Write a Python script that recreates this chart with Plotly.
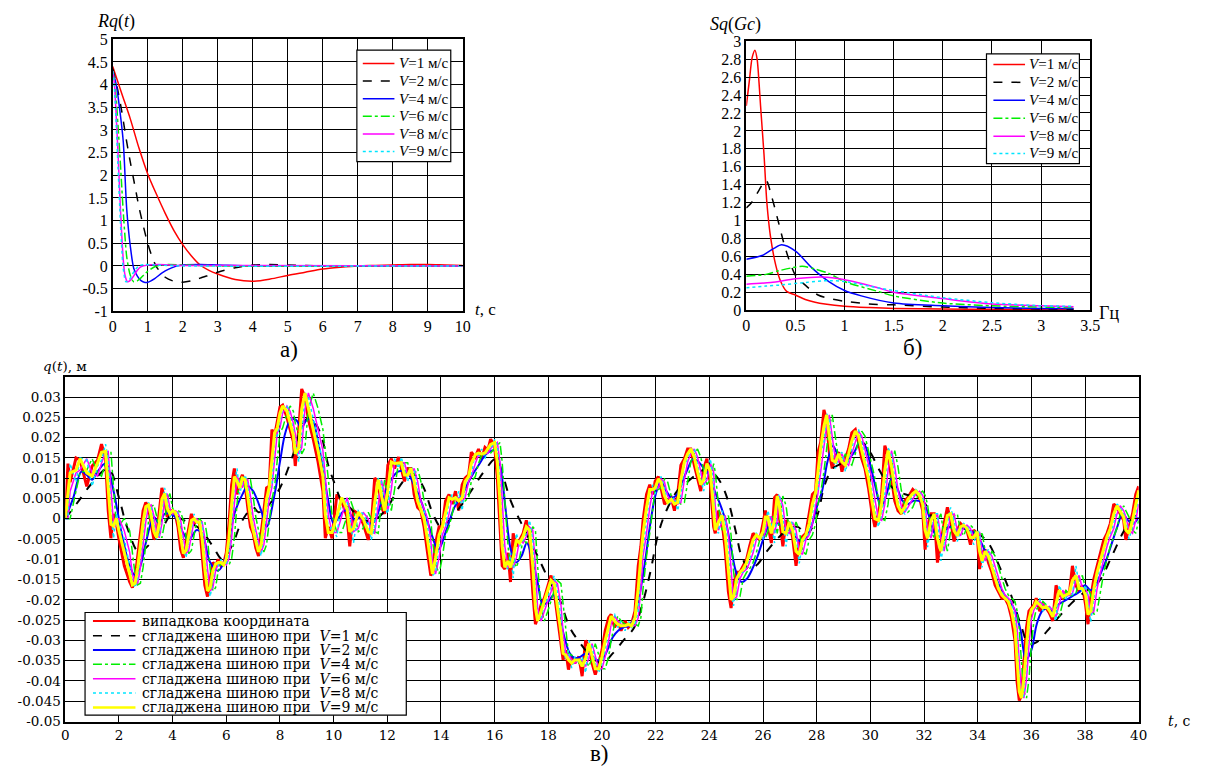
import plotly.graph_objects as go

W, H = 1209, 778

# ---------------- a) Rq(t) ----------------
RQ_T_V1 = [0, 0.25, 0.5, 0.75, 1, 1.25, 1.5, 1.75, 2, 2.25, 2.5, 2.75, 3, 3.5, 4, 4.5, 5, 5.5, 6, 6.5, 7, 7.5, 8, 8.5, 9, 9.5, 10]
RQ_V1 = [4.4, 3.82, 3.25, 2.6, 2.03, 1.58, 1.16, 0.78, 0.47, 0.22, 0.02, -0.1, -0.18, -0.3, -0.34, -0.29, -0.21, -0.14, -0.07, -0.03, 0.0, 0.01, 0.02, 0.03, 0.03, 0.02, 0.01]
RQ_T_V2 = [0, 0.125, 0.25, 0.375, 0.5, 0.625, 0.75, 0.875, 1, 1.125, 1.25, 1.5, 1.75, 2, 2.25, 2.5, 3, 3.5, 4, 4.5, 5, 6, 7, 8, 9, 10]
RQ_V2 = [4.35, 3.95, 3.45, 2.85, 2.3, 1.8, 1.3, 0.88, 0.5, 0.2, -0.02, -0.25, -0.34, -0.36, -0.33, -0.27, -0.14, -0.04, 0.02, 0.03, 0.02, 0.0, 0.0, 0.0, 0.0, 0.0]
RQ_T_V4 = [0, 0.1, 0.2, 0.3, 0.4, 0.5, 0.6, 0.7, 0.8, 0.9, 1.0, 1.2, 1.4, 1.6, 1.8, 2.0, 2.5, 3, 4, 5, 10]
RQ_V4 = [4.3, 4.0, 3.45, 2.75, 1.25, 0.45, -0.05, -0.22, -0.32, -0.36, -0.36, -0.28, -0.16, -0.07, -0.01, 0.02, 0.03, 0.02, 0.0, 0.0, 0.0]
RQ_T_V6 = [0, 0.05, 0.1, 0.15, 0.2, 0.25, 0.3, 0.35, 0.4, 0.5, 0.6, 0.7, 0.8, 0.9, 1.0, 1.2, 1.4, 1.6, 2.0, 3.0, 10]
RQ_V6 = [4.3, 4.1, 3.7, 3.1, 2.5, 1.85, 1.2, 0.65, 0.2, -0.2, -0.35, -0.33, -0.27, -0.19, -0.12, -0.02, 0.02, 0.03, 0.02, 0.0, 0.0]
RQ_T_V8 = [0, 0.05, 0.1, 0.15, 0.2, 0.25, 0.3, 0.35, 0.42, 0.5, 0.6, 0.7, 0.8, 1.0, 1.3, 2.0, 10]
RQ_V8 = [4.3, 4.0, 3.3, 2.5, 1.6, 0.8, 0.15, -0.2, -0.35, -0.32, -0.22, -0.1, -0.02, 0.02, 0.03, 0.01, 0.0]
RQ_T_V9 = [0, 0.05, 0.1, 0.15, 0.2, 0.25, 0.3, 0.38, 0.45, 0.55, 0.65, 0.75, 0.9, 1.2, 2.0, 10]
RQ_V9 = [4.3, 3.9, 3.1, 2.2, 1.3, 0.5, -0.05, -0.35, -0.33, -0.2, -0.08, 0.0, 0.03, 0.02, 0.0, 0.0]

# ---------------- b) Sq(Gc) ----------------
SQ_F_V1 = [0, 0.03, 0.06, 0.088, 0.11, 0.13, 0.145, 0.18, 0.21, 0.245, 0.3, 0.35, 0.41, 0.5, 0.6, 0.7, 0.8, 1.0, 1.25, 1.5, 2.0, 2.5, 3.0, 3.33]
SQ_V1 = [2.28, 2.55, 2.82, 2.9, 2.8, 2.53, 2.28, 1.74, 1.19, 0.83, 0.5, 0.32, 0.21, 0.17, 0.12, 0.09, 0.07, 0.045, 0.03, 0.02, 0.015, 0.01, 0.01, 0.01]
SQ_F_V2 = [0, 0.06, 0.13, 0.2, 0.26, 0.33, 0.4, 0.5, 0.6, 0.73, 0.85, 1.0, 1.25, 1.5, 2.0, 2.5, 3.0, 3.33]
SQ_V2 = [1.14, 1.21, 1.34, 1.45, 1.26, 0.97, 0.68, 0.39, 0.28, 0.17, 0.13, 0.1, 0.07, 0.06, 0.035, 0.02, 0.015, 0.01]
SQ_F_V4 = [0, 0.16, 0.28, 0.36, 0.5, 0.67, 0.84, 1.0, 1.17, 1.5, 2.0, 2.5, 3.0, 3.33]
SQ_V4 = [0.57, 0.61, 0.69, 0.73, 0.66, 0.47, 0.32, 0.22, 0.16, 0.08, 0.05, 0.03, 0.02, 0.02]
SQ_F_V6 = [0, 0.2, 0.33, 0.45, 0.57, 0.7, 0.84, 1.0, 1.34, 1.5, 2.0, 2.5, 3.0, 3.33]
SQ_V6 = [0.38, 0.4, 0.44, 0.47, 0.49, 0.46, 0.41, 0.32, 0.21, 0.16, 0.08, 0.05, 0.035, 0.03]
SQ_F_V8 = [0, 0.25, 0.5, 0.77, 1.0, 1.34, 1.5, 2.0, 2.5, 3.0, 3.33]
SQ_V8 = [0.29, 0.31, 0.35, 0.37, 0.34, 0.25, 0.2, 0.13, 0.07, 0.05, 0.04]
SQ_F_V9 = [0, 0.2, 0.33, 0.6, 0.84, 1.0, 1.34, 1.5, 2.0, 2.5, 3.0, 3.33]
SQ_V9 = [0.25, 0.27, 0.28, 0.31, 0.33, 0.32, 0.25, 0.22, 0.14, 0.085, 0.05, 0.045]

# ---------------- c) q(t) ----------------
RED = [
(0.0,0.0),(0.1,0.0136),(0.18,0.009),(0.4,0.015),(0.55,0.0145),(0.8,0.008),(1.0,0.013),(1.2,0.0144),(1.35,0.0184),(1.5,0.0148),
(1.6,0.002),(1.7,-0.0048),(1.8,0.0012),(1.9,-0.001),(2.0,-0.005),(2.2,-0.0116),(2.4,-0.0156),(2.5,-0.017),(2.6,-0.0148),(2.7,-0.0092),
(2.8,-0.0036),(2.9,0.002),(3.0,0.004),(3.1,0.0028),(3.2,-0.0012),(3.3,-0.005),(3.4,-0.0044),(3.5,0.002),(3.6,0.0076),(3.7,0.0048),
(3.8,0.0004),(3.9,0.002),(4.0,0.002),(4.1,0.0012),(4.2,-0.002),(4.3,-0.0076),(4.4,-0.0096),(4.5,-0.006),(4.6,-0.002),(4.7,0.0012),
(4.8,-0.0012),(4.9,-0.0004),(5.0,-0.0012),(5.1,-0.0084),(5.2,-0.0164),(5.3,-0.0192),(5.4,-0.0148),(5.5,-0.0108),(5.6,-0.0116),(5.7,-0.01),
(5.8,-0.0116),(5.9,-0.0112),(6.0,-0.0084),(6.1,-0.0012),(6.2,0.0084),(6.3,0.0124),(6.4,0.006),(6.5,0.0092),(6.6,0.0108),(6.7,0.0084),
(6.8,0.0028),(6.9,-0.002),(7.0,-0.0036),(7.1,-0.0072),(7.2,-0.0092),(7.3,-0.0036),(7.4,0.002),(7.5,0.0076),(7.6,0.008),(7.7,0.022),
(7.8,0.0204),(7.9,0.0244),(8.0,0.0275),(8.1,0.028),(8.26,0.025),(8.38,0.022),(8.5,0.019),(8.57,0.013),(8.7,0.022),(8.81,0.032),
(8.93,0.030),(9.06,0.0244),(9.24,0.0196),(9.42,0.014),(9.6,0.0068),(9.69,-0.0048),(9.8,-0.002),(9.94,-0.0048),(10.12,0.006),(10.3,0.0044),
(10.5,0.0004),(10.6,-0.0068),(10.74,0.002),(10.92,0.0012),(11.1,-0.0012),(11.29,-0.0052),(11.4,-0.002),(11.53,0.01),(11.66,0.0092),(11.78,0.0028),
(11.9,0.0012),(12.02,0.0132),(12.15,0.0148),(12.27,0.0124),(12.42,0.0152),(12.52,0.0124),(12.64,0.0092),(12.76,0.0124),(12.88,0.0124),(13.0,0.006),
(13.13,0.0028),(13.25,0.002),(13.37,-0.002),(13.5,-0.0084),(13.62,-0.014),(13.68,-0.0132),(13.8,-0.006),(13.93,-0.002),(14.05,-0.002),(14.17,0.0044),
(14.3,0.006),(14.42,0.0036),(14.54,0.0068),(14.66,0.002),(14.79,0.0084),(14.9,0.01),(15.03,0.0108),(15.13,0.0164),(15.28,0.0152),(15.4,0.0172),
(15.52,0.0148),(15.64,0.0176),(15.75,0.017),(15.85,0.0196),(16.0,0.018),(16.1,0.01),(16.2,-0.002),(16.28,-0.0116),(16.38,-0.0124),(16.5,-0.0084),
(16.59,-0.0156),(16.69,-0.0036),(16.81,-0.0068),(16.93,-0.0052),(17.06,-0.0036),(17.18,-0.0004),(17.3,-0.0052),(17.42,-0.018),(17.52,-0.026),(17.6,-0.0244),
(17.73,-0.0212),(17.85,-0.0196),(17.98,-0.0164),(18.1,-0.014),(18.22,-0.018),(18.34,-0.0244),(18.47,-0.0316),(18.55,-0.0348),(18.65,-0.0324),(18.75,-0.0372),
(18.87,-0.034),(18.99,-0.0356),(19.14,-0.034),(19.26,-0.0388),(19.39,-0.03),(19.51,-0.0316),(19.63,-0.0356),(19.75,-0.0384),(19.88,-0.0356),(20.0,-0.0324),
(20.12,-0.0276),(20.25,-0.0244),(20.34,-0.0236),(20.47,-0.0268),(20.59,-0.0252),(20.71,-0.0276),(20.86,-0.0252),(20.98,-0.0268),(21.1,-0.026),(21.23,-0.0228),
(21.35,-0.0116),(21.45,-0.0068),(21.53,-0.0004),(21.66,0.006),(21.78,0.0084),(21.9,0.006),(21.98,0.0092),(22.1,0.0104),(22.2,0.0076),(22.33,0.0036),
(22.45,0.0044),(22.58,0.0052),(22.7,0.002),(22.82,0.006),(22.94,0.0132),(23.07,0.0148),(23.19,0.0172),(23.31,0.0172),(23.44,0.0132),(23.56,0.01),
(23.68,0.0068),(23.79,0.0124),(23.91,0.0148),(24.04,0.0084),(24.16,-0.002),(24.22,-0.0036),(24.34,0.002),(24.47,-0.0004),(24.59,-0.0076),(24.71,-0.018),
(24.81,-0.022),(24.9,-0.0164),(25.02,-0.0132),(25.14,-0.0132),(25.26,-0.0116),(25.39,-0.01),(25.5,-0.0068),(25.63,-0.0036),(25.75,-0.0044),(25.88,-0.0052),
(26.0,-0.0012),(26.09,0.002),(26.18,-0.0012),(26.31,-0.006),(26.43,0.0052),(26.53,0.006),(26.61,0.0004),(26.74,-0.0068),(26.86,-0.0004),(26.98,-0.0012),
(27.1,-0.0044),(27.23,-0.0116),(27.35,-0.006),(27.47,-0.0044),(27.6,-0.0036),(27.72,0.0012),(27.84,0.006),(27.96,0.0068),(28.05,0.0164),(28.15,0.0188),
(28.27,0.0268),(28.37,0.0244),(28.47,0.0164),(28.58,0.0124),(28.7,0.0156),(28.82,0.0164),(28.94,0.0116),(29.07,0.0148),(29.19,0.0172),(29.31,0.0212),
(29.44,0.022),(29.56,0.0188),(29.68,0.0148),(29.8,0.0124),(29.93,0.0076),(30.05,0.002),(30.17,-0.002),(30.3,0.0012),(30.42,0.006),(30.54,0.018),
(30.66,0.0156),(30.79,0.01),(30.91,0.0044),(31.03,0.002),(31.15,0.0012),(31.28,0.0044),(31.4,0.0052),(31.58,0.0072),(31.7,0.0064),(31.83,0.0052),
(31.95,0.002),(32.04,-0.0076),(32.13,-0.002),(32.26,0.0012),(32.38,0.0012),(32.5,-0.0108),(32.63,-0.0052),(32.75,-0.0012),(32.87,0.0028),(32.99,-0.0004),
(33.12,-0.0056),(33.24,-0.0028),(33.36,-0.0012),(33.48,-0.002),(33.6,-0.0028),(33.73,-0.0064),(33.85,-0.0028),(33.98,-0.0036),(34.07,-0.0124),(34.16,-0.0084),
(34.28,-0.0076),(34.4,-0.0108),(34.53,-0.0132),(34.65,-0.0164),(34.77,-0.018),(34.9,-0.0196),(35.02,-0.0196),(35.14,-0.0212),(35.26,-0.0244),(35.39,-0.03),
(35.47,-0.0404),(35.55,-0.0448),(35.63,-0.0436),(35.72,-0.0356),(35.82,-0.0268),(35.91,-0.0228),(36.0,-0.022),(36.1,-0.0212),(36.18,-0.0196),(36.31,-0.0228),
(36.43,-0.0212),(36.55,-0.022),(36.67,-0.0232),(36.8,-0.0252),(36.92,-0.0164),(37.04,-0.0188),(37.17,-0.0196),(37.29,-0.018),(37.41,-0.0188),(37.53,-0.0116),
(37.66,-0.0164),(37.78,-0.018),(37.9,-0.0164),(38.02,-0.0212),(38.11,-0.026),(38.21,-0.0196),(38.33,-0.0148),(38.45,-0.0116),(38.58,-0.0084),(38.7,-0.0052),
(38.82,-0.0036),(38.94,-0.0012),(39.07,0.0036),(39.19,0.0028),(39.31,0.0012),(39.44,-0.0004),(39.52,-0.0052),(39.64,-0.002),(39.77,0.0012),(39.89,0.006),
(40.0,0.008)]

# smoothed by tyre, V = 9 m/s (read at the same instants as the raw signal)
Q_V9 = [
0.0,0.0068,0.0113,0.012,0.0148,0.0113,0.0105,0.0137,0.0164,0.0166,
0.0084,-0.0014,-0.0018,0.0001,-0.003,-0.0083,-0.0136,-0.0163,-0.0159,-0.012,
-0.0064,-0.0008,0.003,0.0034,0.0008,-0.0031,-0.0047,-0.0012,0.0048,0.0062,
0.0026,0.0012,0.002,0.0016,-0.0004,-0.0048,-0.0086,-0.0078,-0.004,-0.0004,
0.0,-0.0008,-0.0008,-0.0048,-0.0124,-0.0178,-0.017,-0.0128,-0.0112,-0.0108,
-0.0108,-0.0114,-0.0098,-0.0048,0.0036,0.0104,0.0092,0.0076,0.01,0.0096,
0.0056,0.0004,-0.0028,-0.0054,-0.0082,-0.0064,-0.0008,0.0048,0.0078,0.015,
0.0212,0.0224,0.026,0.0278,0.0265,0.0235,0.0205,0.016,0.0175,0.027,
0.031,0.0272,0.022,0.0168,0.0104,0.001,-0.0034,-0.0034,0.0006,0.0052,
0.0024,-0.0032,-0.0024,0.0016,0.0,-0.0032,-0.0036,0.004,0.0096,0.006,
0.002,0.0072,0.014,0.0136,0.0138,0.0138,0.0108,0.0108,0.0124,0.0092,
0.0044,0.0024,0.0,-0.0052,-0.0112,-0.0136,-0.0096,-0.004,-0.002,0.0012,
0.0052,0.0048,0.0052,0.0044,0.0052,0.0092,0.0104,0.0136,0.0158,0.0162,
0.016,0.0162,0.0173,0.0183,0.0188,0.014,0.004,-0.0068,-0.012,-0.0104,
-0.012,-0.0096,-0.0052,-0.006,-0.0044,-0.002,-0.0028,-0.0116,-0.022,-0.0252,
-0.0228,-0.0204,-0.018,-0.0152,-0.016,-0.0212,-0.028,-0.0332,-0.0336,-0.0348,
-0.0356,-0.0348,-0.0348,-0.0364,-0.0344,-0.0308,-0.0336,-0.037,-0.037,-0.034,
-0.03,-0.026,-0.024,-0.0252,-0.026,-0.0264,-0.0264,-0.026,-0.0264,-0.0244,
-0.0172,-0.0092,-0.0036,0.0028,0.0072,0.0072,0.0076,0.0098,0.009,0.0056,
0.004,0.0048,0.0036,0.004,0.0096,0.014,0.016,0.0172,0.0152,0.0116,
0.0084,0.0096,0.0136,0.0116,0.0032,-0.0028,-0.0008,0.0008,-0.004,-0.0128,
-0.02,-0.0192,-0.0148,-0.0132,-0.0124,-0.0108,-0.0084,-0.0052,-0.004,-0.0048,
-0.0032,0.0004,0.0004,-0.0036,-0.0004,0.0056,0.0032,-0.0032,-0.0036,-0.0008,
-0.0028,-0.008,-0.0088,-0.0052,-0.004,-0.0012,0.0036,0.0064,0.0116,0.0176,
0.0228,0.0256,0.0204,0.0144,0.014,0.016,0.014,0.0132,0.016,0.0192,
0.0216,0.0204,0.0168,0.0136,0.01,0.0048,0.0,-0.0004,0.0036,0.012,
0.0168,0.0128,0.0072,0.0032,0.0016,0.0028,0.0048,0.0062,0.0068,0.0058,
0.0036,-0.0028,-0.0048,-0.0004,0.0012,-0.0048,-0.008,-0.0032,0.0008,0.0012,
-0.003,-0.0042,-0.002,-0.0016,-0.0024,-0.0046,-0.0046,-0.0032,-0.008,-0.0104,
-0.008,-0.0092,-0.012,-0.0148,-0.0172,-0.0188,-0.0196,-0.0204,-0.0228,-0.0272,
-0.0352,-0.0426,-0.0442,-0.0396,-0.0312,-0.0248,-0.0224,-0.0216,-0.0204,-0.0212,
-0.022,-0.0216,-0.0226,-0.0242,-0.0208,-0.0176,-0.0192,-0.0188,-0.0184,-0.0152,
-0.014,-0.0172,-0.0172,-0.0188,-0.0236,-0.0228,-0.0172,-0.0132,-0.01,-0.0068,
-0.0044,-0.0024,0.0012,0.0032,0.002,0.0004,-0.0028,-0.0036,-0.0004,0.0036,
0.007]

# V = 8 m/s
Q_V8 = [
0.0,0.0,0.0136,0.009,0.015,0.0145,0.008,0.013,0.0144,0.0184,
0.0148,0.002,-0.0048,0.0012,-0.001,-0.005,-0.0116,-0.0156,-0.017,-0.0148,
-0.0092,-0.0036,0.002,0.004,0.0028,-0.0012,-0.005,-0.0044,0.002,0.0076,
0.0048,0.0004,0.002,0.002,0.0012,-0.002,-0.0076,-0.0096,-0.006,-0.002,
0.0012,-0.0012,-0.0004,-0.0012,-0.0084,-0.0164,-0.0192,-0.0148,-0.0108,-0.0116,
-0.01,-0.0116,-0.0112,-0.0084,-0.0012,0.0084,0.0124,0.006,0.0092,0.0108,
0.0084,0.0028,-0.002,-0.0036,-0.0072,-0.0092,-0.0036,0.002,0.0076,0.008,
0.02,0.0204,0.0244,0.0275,0.028,0.025,0.022,0.019,0.014,0.021,
0.031,0.030,0.0244,0.0196,0.014,0.0068,-0.003,-0.002,-0.0045,0.005,
0.0044,0.0004,-0.006,0.002,0.0012,-0.0012,-0.0052,-0.002,0.01,0.0092,
0.0028,0.0012,0.0132,0.0148,0.0124,0.0152,0.0124,0.0092,0.0124,0.0124,
0.006,0.0028,0.002,-0.002,-0.0084,-0.014,-0.0132,-0.006,-0.002,-0.002,
0.0044,0.006,0.0036,0.0068,0.002,0.0084,0.01,0.0108,0.0164,0.0152,
0.0172,0.0148,0.0176,0.017,0.0196,0.018,0.01,-0.002,-0.0116,-0.0124,
-0.0084,-0.0146,-0.0036,-0.0068,-0.0052,-0.0036,-0.0004,-0.0052,-0.018,-0.025,
-0.0244,-0.0212,-0.0196,-0.0164,-0.014,-0.018,-0.0244,-0.0316,-0.0348,-0.0324,
-0.0368,-0.034,-0.0356,-0.034,-0.038,-0.03,-0.0316,-0.0356,-0.038,-0.0356,
-0.0324,-0.0276,-0.0244,-0.0236,-0.0268,-0.0252,-0.0276,-0.0252,-0.0268,-0.026,
-0.0228,-0.0116,-0.0068,-0.0004,0.006,0.0084,0.006,0.0092,0.0104,0.0076,
0.0036,0.0044,0.0052,0.002,0.006,0.0132,0.0148,0.0172,0.0172,0.0132,
0.01,0.0068,0.0124,0.0148,0.0084,-0.002,-0.0036,0.002,-0.0004,-0.0076,
-0.018,-0.0215,-0.0164,-0.0132,-0.0132,-0.0116,-0.01,-0.0068,-0.0036,-0.0044,
-0.0052,-0.0012,0.002,-0.0012,-0.006,0.0052,0.006,0.0004,-0.0068,-0.0004,
-0.0012,-0.0044,-0.011,-0.006,-0.0044,-0.0036,0.0012,0.006,0.0068,0.0164,
0.0188,0.026,0.0244,0.0164,0.0124,0.0156,0.0164,0.0116,0.0148,0.0172,
0.0212,0.022,0.0188,0.0148,0.0124,0.0076,0.002,-0.002,0.0012,0.006,
0.0175,0.0156,0.01,0.0044,0.002,0.0012,0.0044,0.0052,0.0072,0.0064,
0.0052,0.002,-0.007,-0.002,0.0012,0.0012,-0.0104,-0.0052,-0.0012,0.0028,
-0.0004,-0.0056,-0.0028,-0.0012,-0.002,-0.0028,-0.0064,-0.0028,-0.0036,-0.012,
-0.0084,-0.0076,-0.0108,-0.0132,-0.0164,-0.018,-0.0196,-0.0196,-0.0212,-0.0244,
-0.03,-0.04,-0.0444,-0.0436,-0.0356,-0.0268,-0.0228,-0.022,-0.0212,-0.0196,
-0.0228,-0.0212,-0.022,-0.0232,-0.0252,-0.0164,-0.0188,-0.0196,-0.018,-0.0188,
-0.0116,-0.0164,-0.018,-0.0164,-0.0212,-0.0255,-0.0196,-0.0148,-0.0116,-0.0084,
-0.0052,-0.0036,-0.0012,0.0036,0.0028,0.0012,-0.0004,-0.005,-0.002,0.0012,
0.006]

# V = 6 m/s
Q_V6 = [
0.0,0.0,0.0068,0.0113,0.012,0.0148,0.0113,0.0105,0.0137,0.0164,
0.0166,0.0084,-0.0014,-0.0018,0.0001,-0.003,-0.0083,-0.0136,-0.0163,-0.0159,
-0.012,-0.0064,-0.0008,0.003,0.0034,0.0008,-0.0031,-0.0047,-0.0012,0.0048,
0.0062,0.0026,0.0012,0.002,0.0016,-0.0004,-0.0048,-0.0086,-0.0078,-0.004,
-0.0004,0.0,-0.0008,-0.0008,-0.0048,-0.0124,-0.0178,-0.017,-0.0128,-0.0112,
-0.0108,-0.0108,-0.0114,-0.0098,-0.0048,0.0036,0.0104,0.0092,0.0076,0.01,
0.0096,0.0056,0.0004,-0.0028,-0.0054,-0.0082,-0.0064,-0.0008,0.0048,0.0078,
0.015,0.0212,0.0224,0.026,0.0278,0.0265,0.0235,0.0205,0.016,0.0175,
0.027,0.031,0.0272,0.022,0.0168,0.0104,0.001,-0.0034,-0.0034,0.0006,
0.0052,0.0024,-0.0032,-0.0024,0.0016,0.0,-0.0032,-0.0036,0.004,0.0096,
0.006,0.002,0.0072,0.014,0.0136,0.0138,0.0138,0.0108,0.0108,0.0124,
0.0092,0.0044,0.0024,0.0,-0.0052,-0.0112,-0.0136,-0.0096,-0.004,-0.002,
0.0012,0.0052,0.0048,0.0052,0.0044,0.0052,0.0092,0.0104,0.0136,0.0158,
0.0162,0.016,0.0162,0.0173,0.0183,0.0188,0.014,0.004,-0.0068,-0.012,
-0.0104,-0.012,-0.0096,-0.0052,-0.006,-0.0044,-0.002,-0.0028,-0.0116,-0.022,
-0.0252,-0.0228,-0.0204,-0.018,-0.0152,-0.016,-0.0212,-0.028,-0.0332,-0.0336,
-0.0348,-0.0356,-0.0348,-0.0348,-0.0364,-0.0344,-0.0308,-0.0336,-0.037,-0.037,
-0.034,-0.03,-0.026,-0.024,-0.0252,-0.026,-0.0264,-0.0264,-0.026,-0.0264,
-0.0244,-0.0172,-0.0092,-0.0036,0.0028,0.0072,0.0072,0.0076,0.0098,0.009,
0.0056,0.004,0.0048,0.0036,0.004,0.0096,0.014,0.016,0.0172,0.0152,
0.0116,0.0084,0.0096,0.0136,0.0116,0.0032,-0.0028,-0.0008,0.0008,-0.004,
-0.0128,-0.02,-0.0192,-0.0148,-0.0132,-0.0124,-0.0108,-0.0084,-0.0052,-0.004,
-0.0048,-0.0032,0.0004,0.0004,-0.0036,-0.0004,0.0056,0.0032,-0.0032,-0.0036,
-0.0008,-0.0028,-0.008,-0.0088,-0.0052,-0.004,-0.0012,0.0036,0.0064,0.0116,
0.0176,0.0228,0.0256,0.0204,0.0144,0.014,0.016,0.014,0.0132,0.016,
0.0192,0.0216,0.0204,0.0168,0.0136,0.01,0.0048,0.0,-0.0004,0.0036,
0.012,0.0168,0.0128,0.0072,0.0032,0.0016,0.0028,0.0048,0.0062,0.0068,
0.0058,0.0036,-0.0028,-0.0048,-0.0004,0.0012,-0.0048,-0.008,-0.0032,0.0008,
0.0012,-0.003,-0.0042,-0.002,-0.0016,-0.0024,-0.0046,-0.0046,-0.0032,-0.008,
-0.0104,-0.008,-0.0092,-0.012,-0.0148,-0.0172,-0.0188,-0.0196,-0.0204,-0.0228,
-0.0272,-0.0352,-0.0426,-0.0442,-0.0396,-0.0312,-0.0248,-0.0224,-0.0216,-0.0204,
-0.0212,-0.022,-0.0216,-0.0226,-0.0242,-0.0208,-0.0176,-0.0192,-0.0188,-0.0184,
-0.0152,-0.014,-0.0172,-0.0172,-0.0188,-0.0236,-0.0228,-0.0172,-0.0132,-0.01,
-0.0068,-0.0044,-0.0024,0.0012,0.0032,0.002,0.0004,-0.0028,-0.0036,-0.0004,
0.0036]

# V = 4 m/s
Q_V4 = [
0.0,0.0,0.0,0.0068,0.0113,0.012,0.0148,0.0113,0.0105,0.0137,
0.0164,0.0166,0.0084,-0.0014,-0.0018,0.0001,-0.003,-0.0083,-0.0136,-0.0163,
-0.0159,-0.012,-0.0064,-0.0008,0.003,0.0034,0.0008,-0.0031,-0.0047,-0.0012,
0.0048,0.0062,0.0026,0.0012,0.002,0.0016,-0.0004,-0.0048,-0.0086,-0.0078,
-0.004,-0.0004,0.0,-0.0008,-0.0008,-0.0048,-0.0124,-0.0178,-0.017,-0.0128,
-0.0112,-0.0108,-0.0108,-0.0114,-0.0098,-0.0048,0.0036,0.0104,0.0092,0.0076,
0.01,0.0096,0.0056,0.0004,-0.0028,-0.0054,-0.0082,-0.0064,-0.0008,0.0048,
0.0078,0.015,0.0212,0.0224,0.026,0.0278,0.0265,0.0235,0.0205,0.016,
0.0175,0.027,0.031,0.0272,0.022,0.0168,0.0104,0.001,-0.0034,-0.0034,
0.0006,0.0052,0.0024,-0.0032,-0.0024,0.0016,0.0,-0.0032,-0.0036,0.004,
0.0096,0.006,0.002,0.0072,0.014,0.0136,0.0138,0.0138,0.0108,0.0108,
0.0124,0.0092,0.0044,0.0024,0.0,-0.0052,-0.0112,-0.0136,-0.0096,-0.004,
-0.002,0.0012,0.0052,0.0048,0.0052,0.0044,0.0052,0.0092,0.0104,0.0136,
0.0158,0.0162,0.016,0.0162,0.0173,0.0183,0.0188,0.014,0.004,-0.0068,
-0.012,-0.0104,-0.012,-0.0096,-0.0052,-0.006,-0.0044,-0.002,-0.0028,-0.0116,
-0.022,-0.0252,-0.0228,-0.0204,-0.018,-0.0152,-0.016,-0.0212,-0.028,-0.0332,
-0.0336,-0.0348,-0.0356,-0.0348,-0.0348,-0.0364,-0.0344,-0.0308,-0.0336,-0.037,
-0.037,-0.034,-0.03,-0.026,-0.024,-0.0252,-0.026,-0.0264,-0.0264,-0.026,
-0.0264,-0.0244,-0.0172,-0.0092,-0.0036,0.0028,0.0072,0.0072,0.0076,0.0098,
0.009,0.0056,0.004,0.0048,0.0036,0.004,0.0096,0.014,0.016,0.0172,
0.0152,0.0116,0.0084,0.0096,0.0136,0.0116,0.0032,-0.0028,-0.0008,0.0008,
-0.004,-0.0128,-0.02,-0.0192,-0.0148,-0.0132,-0.0124,-0.0108,-0.0084,-0.0052,
-0.004,-0.0048,-0.0032,0.0004,0.0004,-0.0036,-0.0004,0.0056,0.0032,-0.0032,
-0.0036,-0.0008,-0.0028,-0.008,-0.0088,-0.0052,-0.004,-0.0012,0.0036,0.0064,
0.0116,0.0176,0.0228,0.0256,0.0204,0.0144,0.014,0.016,0.014,0.0132,
0.016,0.0192,0.0216,0.0204,0.0168,0.0136,0.01,0.0048,0.0,-0.0004,
0.0036,0.012,0.0168,0.0128,0.0072,0.0032,0.0016,0.0028,0.0048,0.0062,
0.0068,0.0058,0.0036,-0.0028,-0.0048,-0.0004,0.0012,-0.0048,-0.008,-0.0032,
0.0008,0.0012,-0.003,-0.0042,-0.002,-0.0016,-0.0024,-0.0046,-0.0046,-0.0032,
-0.008,-0.0104,-0.008,-0.0092,-0.012,-0.0148,-0.0172,-0.0188,-0.0196,-0.0204,
-0.0228,-0.0272,-0.0352,-0.0426,-0.0442,-0.0396,-0.0312,-0.0248,-0.0224,-0.0216,
-0.0204,-0.0212,-0.022,-0.0216,-0.0226,-0.0242,-0.0208,-0.0176,-0.0192,-0.0188,
-0.0184,-0.0152,-0.014,-0.0172,-0.0172,-0.0188,-0.0236,-0.0228,-0.0172,-0.0132,
-0.01,-0.0068,-0.0044,-0.0024,0.0012,0.0032,0.002,0.0004,-0.0028,-0.0036,
-0.0004]

# V = 2 m/s
BLUE_V2 = [
(0,0.0),(0.3,0.0052),(0.6,0.0116),(0.8,0.0108),(1.0,0.0096),(1.2,0.0116),(1.5,0.0136),(1.8,0.0068),(2.1,-0.0036),(2.4,-0.0116),
(2.6,-0.014),(2.8,-0.0116),(3.0,-0.006),(3.3,0.0004),(3.5,-0.0012),(3.7,0.0012),(3.9,0.0012),(4.1,0.0004),(4.4,-0.0036),(4.6,-0.0052),
(4.9,-0.0028),(5.1,-0.0036),(5.4,-0.0108),(5.7,-0.0128),(6.0,-0.0092),(6.3,0.0012),(6.6,0.006),(6.8,0.008),(7.0,0.0068),(7.3,0.002),
(7.5,-0.002),(7.8,0.006),(8.0,0.014),(8.2,0.0212),(8.4,0.0244),(8.6,0.0244),(8.8,0.0224),(9.0,0.0244),(9.2,0.0244),(9.4,0.0196),
(9.6,0.0124),(9.8,0.0044),(10.0,-0.0012),(10.2,0.0004),(10.4,0.002),(10.6,0.0012),(10.8,-0.0004),(11.0,0.0004),(11.3,-0.0012),(11.5,-0.0008),
(11.8,0.0044),(12.1,0.0092),(12.4,0.0116),(12.7,0.0116),(13.0,0.0084),(13.3,0.0036),(13.6,-0.0028),(13.9,-0.0076),(14.2,-0.0028),(14.5,0.0028),
(14.8,0.006),(15.1,0.01),(15.4,0.0132),(15.7,0.016),(16.0,0.0168),(16.2,0.0132),(16.4,0.0028),(16.6,-0.0076),(16.8,-0.0108),(17.0,-0.0092),
(17.2,-0.006),(17.4,-0.01),(17.6,-0.0156),(17.8,-0.0212),(18.0,-0.0204),(18.2,-0.0188),(18.4,-0.0236),(18.6,-0.0292),(18.8,-0.0332),(19.0,-0.0344),
(19.2,-0.034),(19.4,-0.0332),(19.6,-0.0336),(19.8,-0.0348),(20.0,-0.0348),(20.2,-0.0324),(20.4,-0.0292),(20.6,-0.0276),(20.8,-0.0268),(21.0,-0.0264),
(21.2,-0.0244),(21.4,-0.0188),(21.6,-0.0108),(21.8,-0.0012),(22.0,0.006),(22.2,0.0092),(22.4,0.0068),(22.6,0.0052),(22.8,0.006),(23.0,0.0092),
(23.2,0.0124),(23.4,0.0148),(23.6,0.014),(23.8,0.0124),(24.0,0.0108),(24.2,0.0068),(24.4,0.0036),(24.6,-0.0004),(24.8,-0.0068),(25.0,-0.0132),
(25.2,-0.0156),(25.4,-0.0148),(25.6,-0.0124),(25.8,-0.0092),(26.0,-0.0052),(26.2,-0.002),(26.4,-0.0012),(26.6,-0.0012),(26.8,-0.0028),(27.0,-0.0028),
(27.2,-0.0044),(27.4,-0.0056),(27.6,-0.0048),(27.8,-0.002),(28.0,0.0028),(28.2,0.0068),(28.4,0.014),(28.6,0.018),(28.8,0.0156),(29.0,0.014),
(29.2,0.0148),(29.4,0.0164),(29.6,0.0188),(29.8,0.018),(30.0,0.0132),(30.2,0.0076),(30.4,0.0028),(30.6,0.006),(30.8,0.01),(31.0,0.0076),
(31.2,0.0044),(31.4,0.0036),(31.6,0.0044),(31.8,0.0044),(32.0,0.0036),(32.2,0.0004),(32.4,-0.0036),(32.6,-0.0044),(32.8,-0.0028),(33.0,-0.002),
(33.2,-0.0028),(33.4,-0.002),(33.6,-0.0028),(33.8,-0.0032),(34.0,-0.0044),(34.2,-0.0068),(34.4,-0.01),(34.6,-0.0132),(34.8,-0.0164),(35.0,-0.0188),
(35.2,-0.0204),(35.4,-0.0228),(35.6,-0.0276),(35.8,-0.0348),(36.0,-0.0324),(36.2,-0.026),(36.4,-0.0228),(36.6,-0.022),(36.8,-0.0228),(37.0,-0.0212),
(37.2,-0.0204),(37.4,-0.0196),(37.6,-0.0188),(37.8,-0.018),(38.0,-0.0164),(38.2,-0.0176),(38.4,-0.0164),(38.6,-0.0132),(38.8,-0.01),(39.0,-0.006),
(39.2,-0.002),(39.4,0.0012),(39.6,-0.0004),(39.8,-0.0012),(40.0,0.0004)]

# V = 1 m/s
BLACK_V1 = [
(0,0.0),(0.5,0.0044),(1.0,0.0088),(1.6,0.0124),(2.0,0.0052),(2.3,-0.002),(2.75,-0.0084),(3.0,-0.0072),(3.5,-0.0036),(4.0,0.0012),
(4.3,0.0),(5.0,-0.0024),(5.5,-0.0068),(5.85,-0.01),(6.2,-0.0068),(6.6,-0.0004),(7.0,0.0028),(7.2,0.0016),(7.5,0.0028),(8.0,0.0076),
(8.5,0.016),(8.9,0.024),(9.15,0.0248),(9.5,0.0212),(9.8,0.0132),(10.05,0.0084),(10.3,0.0044),(10.6,0.0028),(11.0,0.0),(11.5,-0.0004),
(12.0,0.0028),(12.5,0.0084),(12.9,0.0112),(13.3,0.0084),(13.7,0.0012),(14.0,-0.002),(14.3,-0.0004),(14.7,0.0028),(15.2,0.0076),(15.6,0.0116),
(16.05,0.0148),(16.3,0.0108),(16.6,0.0044),(17.0,-0.0012),(17.3,-0.0052),(17.6,-0.0092),(18.0,-0.0148),(18.4,-0.0196),(18.8,-0.0268),(19.2,-0.0308),
(19.6,-0.034),(20.0,-0.0356),(20.4,-0.0332),(20.8,-0.03),(21.2,-0.0268),(21.5,-0.0212),(21.8,-0.0132),(22.1,-0.0036),(22.4,0.002),(22.8,0.0068),
(23.2,0.0092),(23.5,0.0108),(23.9,0.0124),(24.1,0.0116),(24.4,0.0092),(24.7,0.0044),(25.0,-0.0036),(25.2,-0.0092),(25.5,-0.0124),(25.8,-0.0112),
(26.1,-0.0084),(26.5,-0.0052),(26.9,-0.0028),(27.3,-0.002),(27.6,-0.004),(28.0,0.0004),(28.3,0.0084),(28.6,0.0124),(29.0,0.014),(29.5,0.0184),
(29.7,0.0188),(30.0,0.0164),(30.3,0.0124),(30.6,0.0092),(31.0,0.0068),(31.5,0.0056),(32.0,0.004),(32.3,0.0004),(32.6,-0.002),(33.0,-0.002),
(33.5,-0.0024),(34.0,-0.0036),(34.4,-0.006),(34.8,-0.0116),(35.2,-0.018),(35.6,-0.026),(35.9,-0.0308),(36.2,-0.0304),(36.6,-0.0276),(37.0,-0.0244),
(37.5,-0.0208),(38.0,-0.018),(38.5,-0.0156),(39.0,-0.0092),(39.4,-0.0036),(39.7,-0.0004),(40.0,0.0012)]

# ---------------- tick labels ----------------
A_XT = [0, 1, 2, 3, 4, 5, 6, 7, 8, 9, 10]
A_XL = ["0", "1", "2", "3", "4", "5", "6", "7", "8", "9", "10"]
A_YT = [-1, -0.5, 0, 0.5, 1, 1.5, 2, 2.5, 3, 3.5, 4, 4.5, 5]
A_YL = ["-1", "-0.5", "0", "0.5", "1", "1.5", "2", "2.5", "3", "3.5", "4", "4.5", "5"]
B_XT = [0, 0.5, 1, 1.5, 2, 2.5, 3, 3.5]
B_XL = ["0", "0.5", "1", "1.5", "2", "2.5", "3", "3.5"]
B_YT = [0, 0.2, 0.4, 0.6, 0.8, 1, 1.2, 1.4, 1.6, 1.8, 2, 2.2, 2.4, 2.6, 2.8, 3]
B_YL = ["0", "0.2", "0.4", "0.6", "0.8", "1", "1.2", "1.4", "1.6", "1.8", "2", "2.2", "2.4", "2.6", "2.8", "3"]
C_XT = [0, 2, 4, 6, 8, 10, 12, 14, 16, 18, 20, 22, 24, 26, 28, 30, 32, 34, 36, 38, 40]
C_XL = [str(v) for v in C_XT]
C_YT = [-0.05, -0.045, -0.04, -0.035, -0.03, -0.025, -0.02, -0.015, -0.01, -0.005, 0, 0.005, 0.01, 0.015, 0.02, 0.025, 0.03]
C_YL = ["-0.05", "-0.045", "-0.04", "-0.035", "-0.03", "-0.025", "-0.02", "-0.015", "-0.01", "-0.005", "0",
        "0.005", "0.01", "0.015", "0.02", "0.025", "0.03"]

V_NAMES = ["<i>V</i>=1 м/с", "<i>V</i>=2 м/с", "<i>V</i>=4 м/с", "<i>V</i>=6 м/с", "<i>V</i>=8 м/с", "<i>V</i>=9 м/с"]
C_NAMES = ["випадкова координата"] + ["сгладжена шиною при  " + n for n in V_NAMES]

COLORS = ["#ff0000", "#000000", "#0000ff", "#00ee00", "#ff00ff", "#00e5ff"]
DASHES = ["solid", "dash", "solid", "dashdot", "solid", "dot"]
C_COLORS = ["#ff0000", "#000000", "#0000ff", "#00ee00", "#ff00ff", "#00e5ff", "#ffff00"]
C_DASHES = ["solid", "dash", "solid", "dashdot", "solid", "dot", "solid"]
C_WIDTHS = [2, 1.5, 2, 1.5, 1.5, 1.5, 2.5]

SERIF = "Liberation Serif, Times New Roman, Times, DejaVu Serif, serif"
WIDE_SERIF = "DejaVu Serif, Liberation Serif, serif"


def px(x):
    return x / W


def py(y):
    return 1 - y / H


fig = go.Figure()

# a)
a_series = [(RQ_T_V1, RQ_V1), (RQ_T_V2, RQ_V2), (RQ_T_V4, RQ_V4), (RQ_T_V6, RQ_V6), (RQ_T_V8, RQ_V8), (RQ_T_V9, RQ_V9)]
for i, (xs, ys) in enumerate(a_series):
    fig.add_trace(go.Scatter(x=xs, y=ys, mode="lines", name=V_NAMES[i], xaxis="x", yaxis="y", showlegend=False,
                             line=dict(color=COLORS[i], dash=DASHES[i], width=1.5, shape="spline", smoothing=0.8)))

# b)
b_series = [(SQ_F_V1, SQ_V1), (SQ_F_V2, SQ_V2), (SQ_F_V4, SQ_V4), (SQ_F_V6, SQ_V6), (SQ_F_V8, SQ_V8), (SQ_F_V9, SQ_V9)]
for i, (xs, ys) in enumerate(b_series):
    fig.add_trace(go.Scatter(x=xs, y=ys, mode="lines", name=V_NAMES[i], xaxis="x2", yaxis="y2", showlegend=False,
                             line=dict(color=COLORS[i], dash=DASHES[i], width=1.5, shape="spline", smoothing=0.8)))

# c)
T_FAST = [p[0] for p in RED]
Q_RED = [p[1] for p in RED]
fig.add_trace(go.Scatter(x=T_FAST, y=Q_RED, mode="lines", name=C_NAMES[0], xaxis="x3", yaxis="y3", showlegend=False,
                         line=dict(color="#ff0000", width=3)))
fig.add_trace(go.Scatter(x=[p[0] for p in BLACK_V1], y=[p[1] for p in BLACK_V1], mode="lines", name=C_NAMES[1],
                         xaxis="x3", yaxis="y3", showlegend=False,
                         line=dict(color="#000000", width=2, dash="dash", shape="spline", smoothing=1)))
fig.add_trace(go.Scatter(x=[p[0] for p in BLUE_V2], y=[p[1] for p in BLUE_V2], mode="lines", name=C_NAMES[2],
                         xaxis="x3", yaxis="y3", showlegend=False,
                         line=dict(color="#0000ff", width=2, shape="spline", smoothing=1)))
fast = [(Q_V4, 3), (Q_V6, 4), (Q_V8, 5), (Q_V9, 6)]
for qs, k in fast:
    wd = 3 if k == 6 else 1.5
    fig.add_trace(go.Scatter(x=T_FAST[:len(qs)], y=qs[:len(T_FAST)], mode="lines", name=C_NAMES[k],
                             xaxis="x3", yaxis="y3", showlegend=False,
                             line=dict(color=C_COLORS[k], width=wd, dash=C_DASHES[k])))

top_font = dict(family=SERIF, size=16, color="black")
bot_font = dict(family=WIDE_SERIF, size=13.5, color="black")


def axis(domain, rng, tv, tt, font, anchor):
    return dict(domain=domain, range=rng, tickvals=tv, ticktext=tt, tickfont=font, anchor=anchor,
                showline=True, linecolor="black", linewidth=1.5, mirror="ticks", ticks="inside", ticklen=4,
                tickcolor="black", showgrid=True, gridcolor="#000000", gridwidth=1, zeroline=False,
                fixedrange=True)


fig.update_layout(
    width=W, height=H, margin=dict(l=0, r=0, t=0, b=0),
    paper_bgcolor="white", plot_bgcolor="white", showlegend=False,
    xaxis=axis([px(110), px(464)], [0, 10], A_XT, A_XL, top_font, "y"),
    yaxis=axis([py(310), py(32)], [-1, 5], A_YT, A_YL, top_font, "x"),
    xaxis2=axis([px(751), px(1099)], [0, 3.5], B_XT, B_XL, top_font, "y2"),
    yaxis2=axis([py(309), py(34)], [0, 3], B_YT, B_YL, top_font, "x2"),
    xaxis3=axis([px(62), px(1148)], [0, 40], C_XT, C_XL, bot_font, "y3"),
    yaxis3=axis([py(729.5), py(377)], [-0.05, 0.035], C_YT, C_YL, bot_font, "x3"),
)


# ---- legend boxes (drawn as paper shapes + text) ----
def legend_box(x0, y0, x1, y1, sx0, sx1, tx, ys, names, colors, dashes, widths, fam, size):
    fig.add_shape(type="rect", xref="paper", yref="paper", x0=px(x0), x1=px(x1), y0=py(y1), y1=py(y0),
                  fillcolor="white", line=dict(color="black", width=1.2), layer="above")
    for yy, nm, c, d, w in zip(ys, names, colors, dashes, widths):
        fig.add_shape(type="line", xref="paper", yref="paper", x0=px(sx0), x1=px(sx1), y0=py(yy), y1=py(yy),
                      line=dict(color=c, dash=d, width=w), layer="above")
        fig.add_annotation(text=nm, x=px(tx), y=py(yy), xref="paper", yref="paper", showarrow=False,
                           xanchor="left", yanchor="middle", font=dict(family=fam, size=size, color="black"))


legend_box(357, 43, 452, 157, 363, 395, 398, [56.7, 74.7, 92.7, 110.7, 128.7, 146.7], V_NAMES,
           COLORS, DASHES, [1.5] * 6, SERIF, 15)
legend_box(994, 47, 1088, 159, 1001, 1033, 1035, [57.7, 76.0, 94.3, 112.7, 131.0, 148.7], V_NAMES,
           COLORS, DASHES, [1.5] * 6, SERIF, 15)
legend_box(82, 618, 407, 723, 90, 133, 138, [626.7, 641.7, 656.3, 671.0, 685.7, 700.3, 715.0], C_NAMES,
           C_COLORS, C_DASHES, C_WIDTHS, WIDE_SERIF, 14)

ann = [
    ("<i>Rq</i>(<i>t</i>)", 113, 14, SERIF, 18),
    ("<i>t</i>, с", 487, 308, SERIF, 17),
    ("<i>Sq</i>(<i>Gc</i>)", 740, 17, SERIF, 18),
    ("Гц", 1118, 312, SERIF, 18),
    ("а)", 288, 349, SERIF, 23),
    ("б)", 919, 347, SERIF, 23),
    ("в)", 602, 762, SERIF, 23),
    ("<i>q</i>(<i>t</i>), м", 62, 366, WIDE_SERIF, 13.5),
    ("<i>t</i>, с", 1189, 729, WIDE_SERIF, 14),
]
for text, x, y, fam, size in ann:
    fig.add_annotation(text=text, x=px(x), y=py(y), xref="paper", yref="paper", showarrow=False,
                       xanchor="center", yanchor="middle", font=dict(family=fam, size=size, color="black"))

fig.write_html("out.html")
